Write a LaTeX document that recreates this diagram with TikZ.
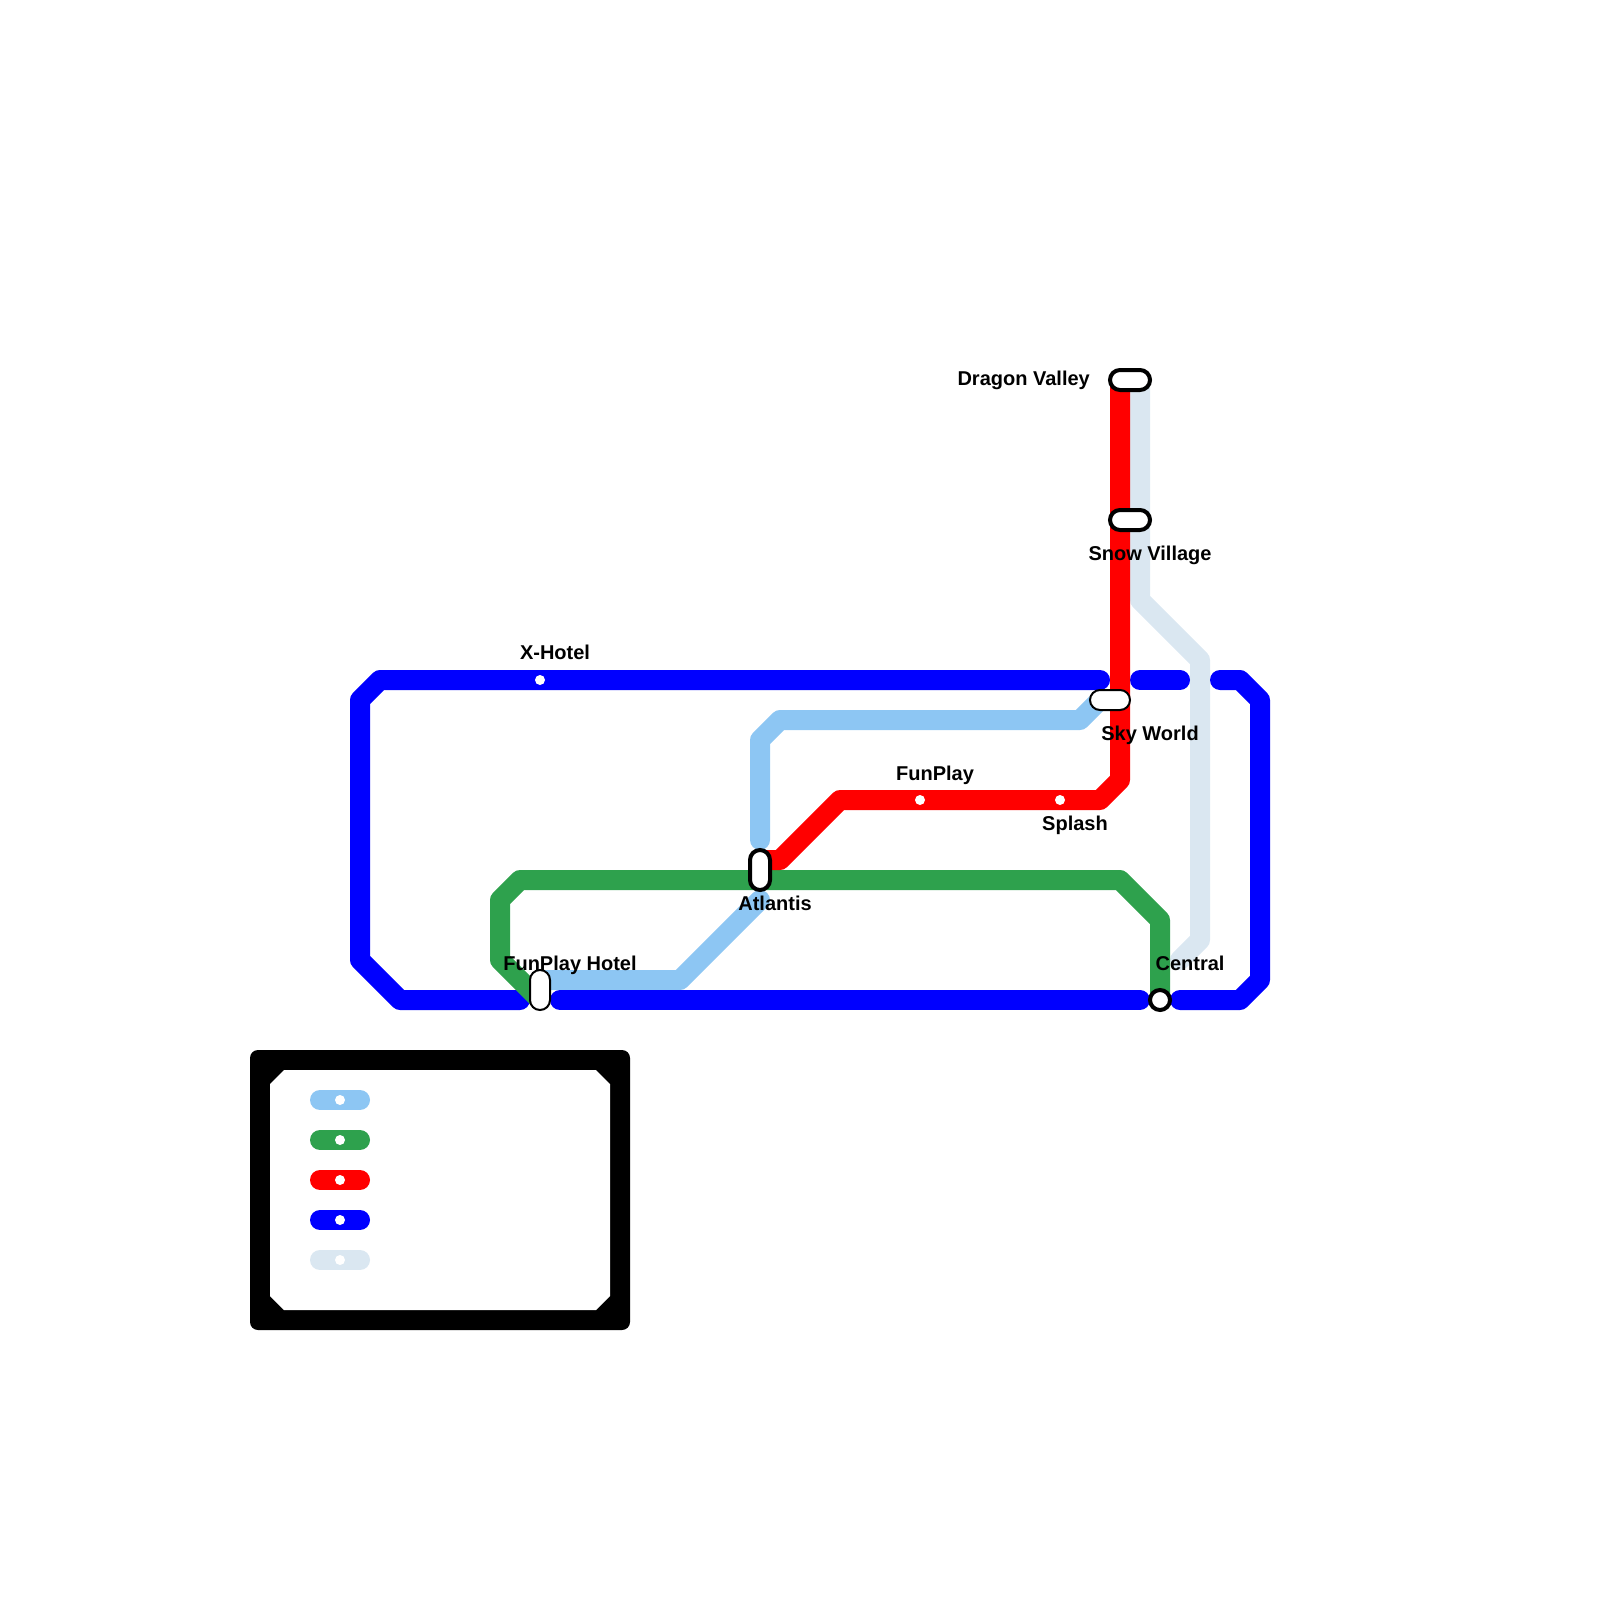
\documentclass[tikz,border=0pt]{standalone}
\usepackage{fontspec}
\setmainfont{Liberation Sans}
\definecolor{skyline}{HTML}{8DC6F3}
\definecolor{parkline}{HTML}{2EA14D}
\definecolor{fireline}{HTML}{FF0000}
\definecolor{loopline}{HTML}{0000FF}
\definecolor{snowline}{HTML}{DAE7F1}
\begin{document}
\begin{tikzpicture}[x=1pt,y=-1pt,
  every node/.style={font=\fontsize{20}{24}\selectfont\bfseries,inner sep=0pt},
  track/.style={line width=20pt,line cap=round,line join=round},
  stop/.style={circle,fill=white,minimum size=10pt},
  hub/.style={rectangle,draw,fill=white,rounded corners=10pt,line width=#1},
  hub/.default=4pt,
  flat/.style={minimum width=40pt,minimum height=20pt},
  tall/.style={minimum width=20pt,minimum height=40pt}]
\useasboundingbox (0,0) rectangle (1600,1600);
% legend box
\fill[black,rounded corners=8pt] (250,1050) rectangle (630,1330);
\fill[white] (284,1070) -- (596,1070) -- (610,1084) -- (610,1296) -- (596,1310)
  -- (284,1310) -- (270,1296) -- (270,1084) -- cycle;
\foreach \y/\col in {1100/skyline,1140/parkline,1180/fireline,1220/loopline,1260/snowline}{
  \draw[track,\col] (320,\y) -- (360,\y);
  \node[stop] at (340,\y) {};
}
% line ends
\coordinate (skytop) at (760,840);
\coordinate (skyend) at (1100,700);
\coordinate (skylow) at (760,900);
\coordinate (hotelend) at (540,980);
\coordinate (parkstart) at (540,1000);
\coordinate (parkend) at (1160,1000);
\coordinate (firetop) at (1120,380);
\coordinate (fireend) at (760,860);
\coordinate (snowtop) at (1140,380);
\coordinate (snowend) at (1180,960);
\coordinate (loopa) at (1100,680);
\coordinate (loopb) at (520,1000);
\coordinate (loopc) at (560,1000);
\coordinate (loopd) at (1140,1000);
\coordinate (loope) at (1180,1000);
\coordinate (loopf) at (1220,680);
\coordinate (loopg) at (1140,680);
\coordinate (looph) at (1180,680);
% lines
\draw[track,skyline] (skytop) -- (760,740) -- (780,720) -- (1080,720) -- (skyend);
\draw[track,skyline] (skylow) -- (680,980) -- (hotelend);
\draw[track,snowline] (snowtop) -- (1140,600) -- (1200,660) -- (1200,940) -- (snowend);
\draw[track,loopline] (loopa) -- (380,680) -- (360,700) -- (360,960) -- (400,1000) -- (loopb);
\draw[track,loopline] (loopc) -- (loopd);
\draw[track,loopline] (loope) -- (1240,1000) -- (1260,980) -- (1260,700) -- (1240,680) -- (loopf);
\draw[track,loopline] (loopg) -- (looph);
\draw[track,parkline] (parkstart) -- (500,960) -- (500,900) -- (520,880) -- (1120,880) -- (1160,920) -- (parkend);
\draw[track,fireline] (firetop) -- (1120,780) -- (1100,800) -- (840,800) -- (780,860) -- (fireend);
% stations
\node[hub,flat] (dragon) at (1130,380) {};
\node[hub,flat] (snow) at (1130,520) {};
\node[hub=2pt,flat] (skyworld) at (1110,700) {};
\node[hub,tall] (atlantis) at (760,870) {};
\node[hub=2pt,tall] (fphotel) at (540,990) {};
\node[circle,draw,fill=white,line width=4pt,outer sep=0pt,minimum size=20pt] (central) at (1160,1000) {};
\node[stop] (xhotel) at (540,680) {};
\node[stop] (funplay) at (920,800) {};
\node[stop] (splash) at (1060,800) {};
% labels
\node[anchor=base east] (dragonlabel) at (1090,385) {Dragon Valley};
\node[anchor=base] (snowlabel) at (1150,560) {Snow Village};
\node[anchor=base] (xhotellabel) at (555,659.5) {X-Hotel};
\node[anchor=base] (skylabel) at (1150,740) {Sky World};
\node[anchor=base] (funplaylabel) at (935,780) {FunPlay};
\node[anchor=base] (splashlabel) at (1075,830) {Splash};
\node[anchor=base] (atlantislabel) at (775,910) {Atlantis};
\node[anchor=base] (fphotellabel) at (570,970) {FunPlay Hotel};
\node[anchor=base] (centrallabel) at (1190,970) {Central};
\end{tikzpicture}
\end{document}
